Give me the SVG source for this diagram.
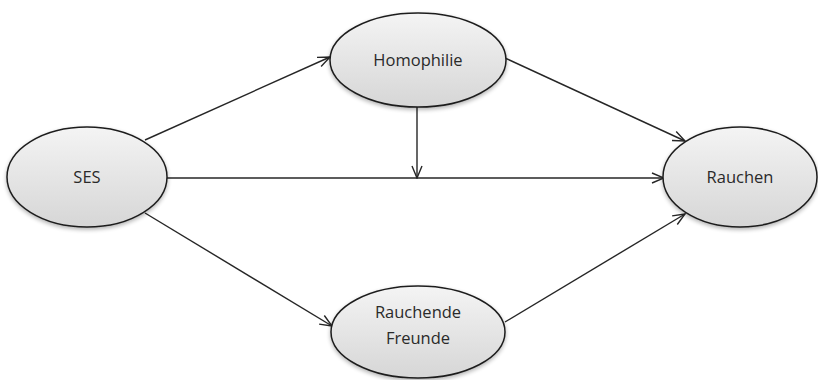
<svg xmlns="http://www.w3.org/2000/svg" width="818" height="380" viewBox="0 0 818 380">
<defs>
<linearGradient id="g" x1="0" y1="0" x2="0" y2="1">
<stop offset="0" stop-color="#f4f4f4"/>
<stop offset="1" stop-color="#d6d6d6"/>
</linearGradient>
<filter id="sh" x="-20%" y="-20%" width="140%" height="150%">
<feGaussianBlur in="SourceAlpha" stdDeviation="2"/>
<feOffset dx="0" dy="2" result="b"/>
<feComponentTransfer><feFuncA type="linear" slope="0.3"/></feComponentTransfer>
<feMerge><feMergeNode/><feMergeNode in="SourceGraphic"/></feMerge>
</filter>
<marker id="arr" viewBox="0 0 14 12" refX="13" refY="6" markerWidth="14" markerHeight="12" markerUnits="userSpaceOnUse" orient="auto">
<path d="M1,1 L13,6 L1,11" fill="none" stroke="#262626" stroke-width="1.4"/>
</marker>
</defs>
<style>
.n{fill:url(#g);stroke:#1e1e1e;stroke-width:1.5;filter:url(#sh)}
.t{font-family:"Open Sans","Liberation Sans",sans-serif;font-size:16.5px;fill:#2a2a2a;text-anchor:middle}
.c{stroke:#262626;stroke-width:1.4;fill:none;marker-end:url(#arr)}
</style>
<rect width="818" height="380" fill="#fff"/>
<g id="connectors">
<line class="c" x1="145" y1="140" x2="330" y2="57"/>
<line class="c" x1="166" y1="178" x2="664" y2="178"/>
<line class="c" x1="505" y1="58" x2="685" y2="141"/>
<line class="c" x1="417" y1="107" x2="417" y2="178"/>
<line class="c" x1="145" y1="213" x2="332" y2="326"/>
<line class="c" x1="505" y1="322" x2="685" y2="214"/>
</g>
<g id="ses">
<ellipse class="n" cx="87" cy="177" rx="80" ry="50"/>
<text class="t" x="87" y="183">SES</text>
</g>
<g id="homophilie">
<ellipse class="n" cx="418" cy="60" rx="88" ry="47"/>
<text class="t" x="418" y="66">Homophilie</text>
</g>
<g id="rauchende-freunde">
<ellipse class="n" cx="418" cy="332" rx="87" ry="46"/>
<text class="t" x="418" y="318">Rauchende</text>
<text class="t" x="418" y="344">Freunde</text>
</g>
<g id="rauchen">
<ellipse class="n" cx="740" cy="177" rx="77" ry="50"/>
<text class="t" x="740" y="183">Rauchen</text>
</g>
</svg>
